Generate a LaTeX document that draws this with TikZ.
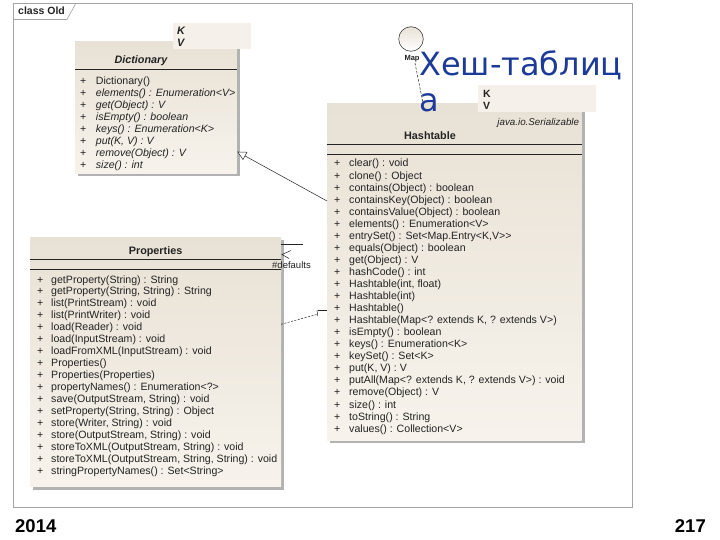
\documentclass[tikz,border=0pt]{standalone}
\usepackage{fontspec}
\setmainfont{Liberation Sans}
\newfontfamily\dejavu{DejaVu Sans}
\usetikzlibrary{shadows,arrows.meta}
\definecolor{framegray}{RGB}{165,165,165}
\definecolor{boxtop}{RGB}{232,225,213}
\definecolor{boxbot}{RGB}{247,243,236}
\definecolor{tmplfill}{RGB}{245,241,234}
\definecolor{ink}{RGB}{35,35,35}
\definecolor{titleblue}{RGB}{28,58,152}
\definecolor{shadowgray}{RGB}{178,178,178}
\begin{document}
\begin{tikzpicture}[x=1pt,y=-1pt,
  clsbox/.style={rectangle, inner sep=0pt, outer sep=0pt, anchor=north west,
    top color=boxtop, bottom color=boxbot, draw=none,
    drop shadow={shadow xshift=3pt, shadow yshift=-3pt, fill=shadowgray, opacity=1}},
  tmplbox/.style={rectangle, inner sep=0pt, outer sep=0pt, anchor=north west, fill=tmplfill},
  sepline/.style={draw=ink, line width=0.8pt},
  meth/.style={font=\fontsize{10.6}{12}\selectfont, text=ink, inner sep=0pt, anchor=base west},
  imeth/.style={meth, font=\fontsize{10.6}{12}\selectfont\itshape},
  ctitle/.style={font=\fontsize{10.8}{12}\selectfont\bfseries, text=ink, inner sep=0pt, anchor=base},
  conn/.style={draw=ink, line width=0.5pt},
  smalltxt/.style={font=\fontsize{9.5}{11}\selectfont, text=ink, inner sep=0pt}
]
\useasboundingbox (0,0) rectangle (720,540);
\fill[white] (0,0) rectangle (720,540);

% frame
\node[draw=framegray, line width=0.6pt, rectangle, inner sep=0pt, anchor=north west,
  minimum width=619pt, minimum height=504pt] (frame) at (13,3) {};
\draw[framegray, line width=0.6pt] (13,19.5) -- (67,19.5) -- (76,3);
\node[font=\fontsize{10.5}{12}\selectfont\bfseries, text=ink, inner sep=0pt, anchor=base west] (tab) at (18,15) {class Old};

% Dictionary
\node[clsbox, minimum width=161.7pt, minimum height=131.6pt] (dict) at (75,41.7) {};
\node[tmplbox, minimum width=78pt, minimum height=26.6pt] (dtpl) at (173,22.7) {};
\node[font=\fontsize{10.8}{12}\selectfont\bfseries\itshape, text=ink, inner sep=0pt, anchor=base west] (dK) at (177,34.8) {K};
\node[font=\fontsize{10.8}{12}\selectfont\bfseries\itshape, text=ink, inner sep=0pt, anchor=base west] (dV) at (177,47) {V};
\node[ctitle, font=\fontsize{10.8}{12}\selectfont\bfseries\itshape] (dtitle) at (141,63.7) {Dictionary};
\draw[sepline] (75,69) -- (236.7,69);
\node[meth] (dp0) at (80,84.8) {+};
\node[meth] (dm0) at (95.7,84.8) {Dictionary()};
\foreach \t [count=\i from 1] in {{elements() : Enumeration<V>},{get(Object) : V},{isEmpty() : boolean},{keys() : Enumeration<K>},{put(K, V) : V},{remove(Object) : V},{size() : int}}{
  \node[meth] (dp\i) at (80,84.8+12*\i) {+};
  \node[imeth] (dm\i) at (95.7,84.8+12*\i) {\t};
}

% Hashtable
\node[clsbox, minimum width=254.7pt, minimum height=336.7pt] (hash) at (327,103.3) {};
\node[tmplbox, minimum width=118pt, minimum height=26.7pt] (htpl) at (478.3,85) {};
\node[font=\fontsize{10.5}{12}\selectfont\bfseries, text=ink, inner sep=0pt, anchor=base west] (hK) at (483,98) {K};
\node[font=\fontsize{10.5}{12}\selectfont\bfseries, text=ink, inner sep=0pt, anchor=base west] (hV) at (483,109.7) {V};
\node[smalltxt, font=\fontsize{9.8}{11}\selectfont\itshape, anchor=base east] (ser) at (579.3,125.8) {java.io.Serializable};
\node[ctitle] (htitle) at (430,139.7) {Hashtable};
\draw[sepline] (327,144.3) -- (581.7,144.3);
\draw[sepline] (327,154.3) -- (581.7,154.3);
\foreach \t [count=\i from 0] in {{clear() : void},{clone() : Object},{contains(Object) : boolean},{containsKey(Object) : boolean},{containsValue(Object) : boolean},{elements() : Enumeration<V>},{entrySet() : Set<Map.Entry<K,V>{}>},{equals(Object) : boolean},{get(Object) : V},{hashCode() : int},{Hashtable(int, float)},{Hashtable(int)},{Hashtable()},{Hashtable(Map<? extends K, ? extends V>)},{isEmpty() : boolean},{keys() : Enumeration<K>},{keySet() : Set<K>},{put(K, V) : V},{putAll(Map<? extends K, ? extends V>) : void},{remove(Object) : V},{size() : int},{toString() : String},{values() : Collection<V>}}{
  \node[meth] (hp\i) at (334,167+12.05*\i) {+};
  \node[meth] (hm\i) at (349,167+12.05*\i) {\t};
}

% Properties
\node[clsbox, minimum width=251pt, minimum height=249.7pt] (prop) at (30,237) {};
\node[ctitle] (ptitle) at (155.6,254.5) {Properties};
\draw[sepline] (30,259.3) -- (281,259.3);
\draw[sepline] (30,269.3) -- (281,269.3);
\foreach \t [count=\i from 0] in {{getProperty(String) : String},{getProperty(String, String) : String},{list(PrintStream) : void},{list(PrintWriter) : void},{load(Reader) : void},{load(InputStream) : void},{loadFromXML(InputStream) : void},{Properties()},{Properties(Properties)},{propertyNames() : Enumeration<?>},{save(OutputStream, String) : void},{setProperty(String, String) : Object},{store(Writer, String) : void},{store(OutputStream, String) : void},{storeToXML(OutputStream, String) : void},{storeToXML(OutputStream, String, String) : void},{stringPropertyNames() : Set<String>}}{
  \node[meth] (pp\i) at (37,283+11.95*\i) {+};
  \node[meth] (pm\i) at (51,283+11.95*\i) {\t};
}

% Map interface lollipop
\node[circle, draw=ink, line width=0.5pt, top color=boxtop, bottom color=white, minimum size=24.6pt, inner sep=0pt] (map) at (411,39) {};
\node[font=\fontsize{7.5}{8}\selectfont\bfseries, text=ink, inner sep=0pt] (maplbl) at (412,59) {Map};
\coordinate (mapA) at (415,63);
\coordinate (mapB) at (423,103.3);
\draw[conn, dash pattern=on 2.5pt off 1.6pt] (mapA) -- (mapB);

% generalization Hashtable -> Dictionary
\coordinate (gA) at (327,201);
\coordinate (gB) at (237.3,151.7);
\draw[conn, -{Triangle[open, fill=white, length=9pt, width=9pt]}] (gA) -- (gB);

% Properties -> Hashtable
\coordinate (pA) at (281,324.3);
\coordinate (pB) at (316.5,314.5);
\coordinate (pC) at (317.5,310.5);
\coordinate (pD) at (327,310.5);
\draw[conn, dash pattern=on 2pt off 1.5pt] (pA) -- (pB);
\draw[conn] (317,310) -- (317.8,316);
\draw[conn] (pC) -- (pD);

% self association defaults
\coordinate (sA) at (281,244);
\coordinate (sB) at (303,244);
\draw[conn, line width=0.7pt] (sA) -- (sB);
\coordinate (sT) at (282,254.5);
\draw[conn] (291,250.5) -- (sT) -- (289,258.5);
\node[smalltxt, anchor=base west] (deflbl) at (272,268.5) {\#defaults};

% big blue title
\node[font=\dejavu\fontsize{32}{36}\selectfont, text=titleblue, inner sep=0pt, anchor=base west] (ttl1) at (419,76) {Хеш-таблиц};
\node[font=\dejavu\fontsize{32}{36}\selectfont, text=titleblue, inner sep=0pt, anchor=base west] (ttl2) at (419,111.7) {а};

% footer
\node[font=\fontsize{18.5}{20}\selectfont\bfseries, text=black, inner sep=0pt, anchor=base west] (year) at (15,532) {2014};
\node[font=\fontsize{18.5}{20}\selectfont\bfseries, text=black, inner sep=0pt, anchor=base east] (page) at (706,532) {217};
\end{tikzpicture}
\end{document}
